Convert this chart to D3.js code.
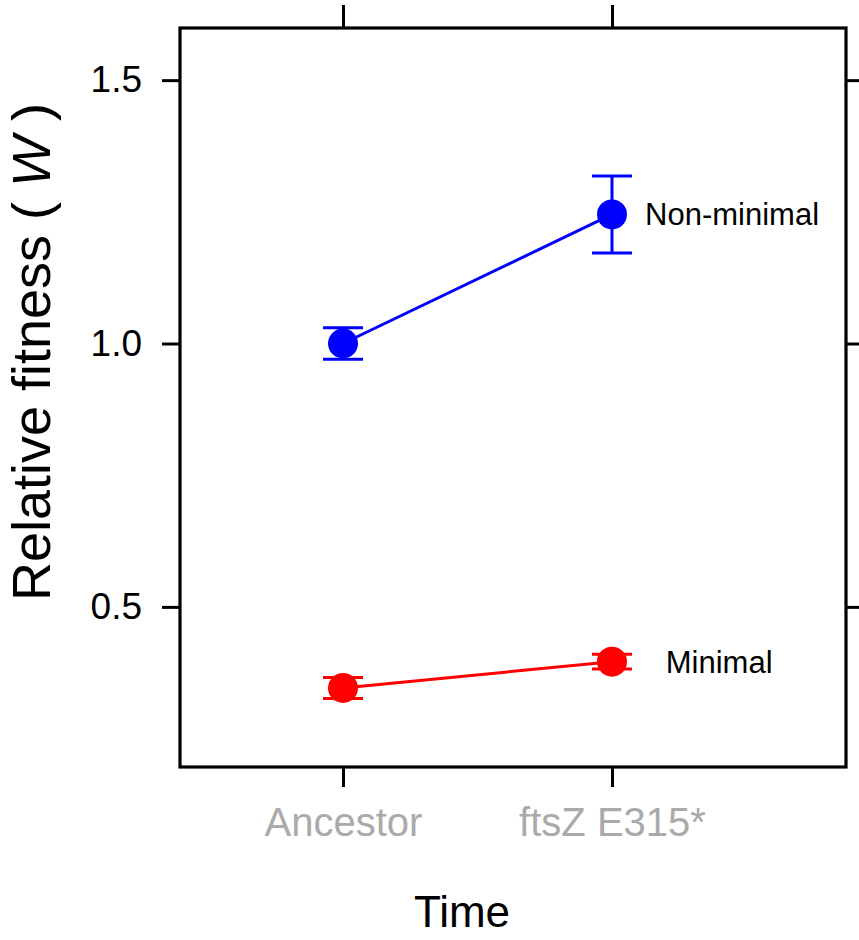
<!DOCTYPE html>
<html>
<head>
<meta charset="utf-8">
<script src="https://cdn.jsdelivr.net/npm/d3@7"></script>
<style>
  body { margin: 0; background: #fff; }
  svg { display: block; font-family: "Liberation Sans", Arial, sans-serif; }
</style>
</head>
<body>
<svg id="chart" width="859" height="940"></svg>
<script>
// categories on the x axis (positions 1, 2)
const timeLabels = ["Ancestor", "ftsZ E315*"];
const timePos = [1, 2];

// series: mean relative fitness and error bar half-width
const nonMinimalMean = [1.0, 1.245];
const nonMinimalErr = [0.03, 0.073];
const minimalMean = [0.346, 0.396];
const minimalErr = [0.02, 0.014];

const yTicks = [0.5, 1.0, 1.5];

const series = [
  { name: "Non-minimal", color: "#0000ff", mean: nonMinimalMean, err: nonMinimalErr, labelX: 2.123 },
  { name: "Minimal", color: "#ff0000", mean: minimalMean, err: minimalErr, labelX: 2.2 },
];

var svg = d3.select("#chart"),
  margin = { top: 28, right: 13, bottom: 173, left: 180 },
  width = +svg.attr("width") - margin.left - margin.right,
  height = +svg.attr("height") - margin.top - margin.bottom;

var x = d3.scaleLinear().domain([0.394, 2.87]).range([0, width]),
  y = d3.scaleLinear().domain([0.196, 1.599]).range([height, 0]);

var g = svg
  .append("g")
  .attr("transform", "translate(" + margin.left + "," + margin.top + ")");

function styleAxis(sel) {
  sel.select(".domain").remove();
  sel.selectAll(".tick line").attr("stroke", "#000").attr("stroke-width", 3);
}

// left axis with labels
g.append("g")
  .call(d3.axisLeft(y).tickValues(yTicks).tickSize(18).tickPadding(20).tickFormat(d3.format(".1f")))
  .call(styleAxis)
  .selectAll("text")
  .attr("font-size", 37)
  .attr("font-family", "Liberation Sans, Arial, sans-serif")
  .attr("fill", "#000");

// right axis, ticks only
g.append("g")
  .attr("transform", "translate(" + width + ",0)")
  .call(d3.axisRight(y).tickValues(yTicks).tickSize(18).tickFormat(""))
  .call(styleAxis);

// top axis, ticks only
g.append("g")
  .call(d3.axisTop(x).tickValues(timePos).tickSize(23).tickFormat(""))
  .call(styleAxis);

// bottom axis with grey category labels
g.append("g")
  .attr("transform", "translate(0," + height + ")")
  .call(d3.axisBottom(x).tickValues(timePos).tickSize(20).tickPadding(21)
    .tickFormat((d, i) => timeLabels[i]))
  .call(styleAxis)
  .selectAll("text")
  .attr("font-size", 40)
  .attr("font-family", "Liberation Sans, Arial, sans-serif")
  .attr("fill", "#aaaaaa");

// frame
g.append("rect")
  .attr("width", width)
  .attr("height", height)
  .attr("fill", "none")
  .attr("stroke", "#000")
  .attr("stroke-width", 3.2);

var line = d3.line()
  .x((d, i) => x(timePos[i]))
  .y((d) => y(d));

var sg = g.selectAll(".series")
  .data(series)
  .enter()
  .append("g")
  .attr("class", "series");

sg.append("path")
  .attr("d", (s) => line(s.mean))
  .attr("fill", "none")
  .attr("stroke", (s) => s.color)
  .attr("stroke-width", 3);

// error bars
var capW = 20;
sg.each(function (s) {
  var el = d3.select(this);
  s.mean.forEach(function (m, i) {
    var cx = x(timePos[i]),
      lo = y(m - s.err[i]),
      hi = y(m + s.err[i]);
    el.append("line")
      .attr("x1", cx).attr("x2", cx).attr("y1", lo).attr("y2", hi)
      .attr("stroke", s.color).attr("stroke-width", 3);
    [lo, hi].forEach(function (yy) {
      el.append("line")
        .attr("x1", cx - capW).attr("x2", cx + capW).attr("y1", yy).attr("y2", yy)
        .attr("stroke", s.color).attr("stroke-width", 3);
    });
  });
});

sg.selectAll("circle")
  .data((s) => s.mean.map((m, i) => ({ m: m, i: i, color: s.color })))
  .enter()
  .append("circle")
  .attr("cx", (d) => x(timePos[d.i]))
  .attr("cy", (d) => y(d.m))
  .attr("r", 15)
  .attr("fill", (d) => d.color);

// series labels next to the last point
sg.append("text")
  .attr("x", (s) => x(s.labelX))
  .attr("y", (s) => y(s.mean[s.mean.length - 1]))
  .attr("dy", "0.35em")
  .attr("font-size", 31)
  .attr("fill", "#000")
  .text((s) => s.name);

// axis titles
svg.append("text")
  .attr("x", 462)
  .attr("y", 927)
  .attr("text-anchor", "middle")
  .attr("font-size", 44)
  .text("Time");

var yt = svg.append("text")
  .attr("transform", "translate(50,352) rotate(-90)")
  .attr("text-anchor", "middle")
  .attr("font-size", 54);
yt.append("tspan").text("Relative fitness ( ");
yt.append("tspan").attr("font-style", "italic").text("W");
yt.append("tspan").text(" )");
</script>
</body>
</html>
